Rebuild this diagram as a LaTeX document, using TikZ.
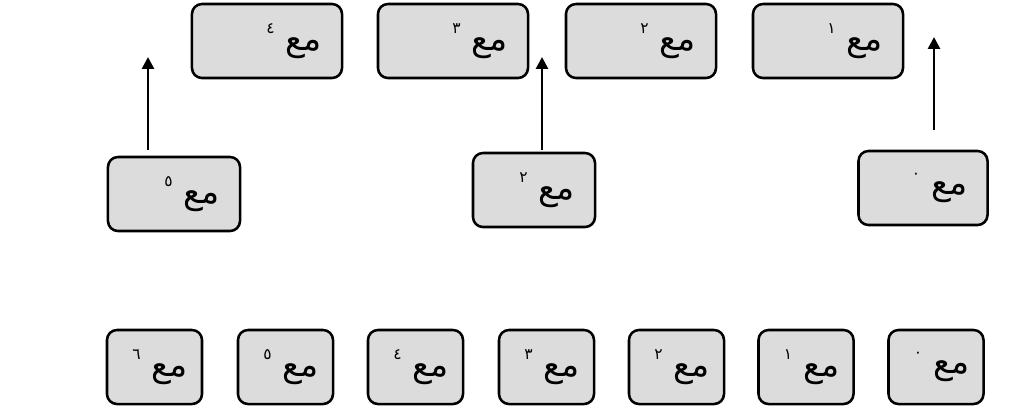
\documentclass[tikz,border=0pt]{standalone}
\usepackage{fontspec}
\usetikzlibrary{arrows.meta,calc}
\TeXXeTstate=1
\newfontfamily\arabicfont[Script=Arabic]{DejaVu Sans}
\definecolor{boxgray}{RGB}{220,220,220}
\newcommand{\mc}[1]{\mbox{\arabicfont\beginR مع \raisebox{0.9ex}{\fontsize{11}{11}\selectfont #1}\endR}}
\tikzset{
  box/.style={draw, fill=boxgray, line width=1.8pt, rounded corners=0.25cm,
    inner xsep=0.5cm, inner ysep=0pt, align=right, minimum height=1.85cm,
    font=\fontsize{24}{26}\selectfont},
  smallbox/.style={box, inner xsep=0.35cm, text width=1.675cm},
  arr/.style={-{Triangle[width=8.5pt,length=8.5pt]}, line width=1.9pt}
}
\begin{document}
\begin{tikzpicture}[x=0.025cm, y=-0.025cm]
  \useasboundingbox (0,0) rectangle (1019,409);
  % top row
  \node[box, text width=2.75cm] (s4) at (267,41) {\mc{٤}};
  \node[box, text width=2.75cm] (s3) at (453,41) {\mc{٣}};
  \node[box, text width=2.75cm] (s2) at (641,41) {\mc{٢}};
  \node[box, text width=2.75cm] (s1) at (828,41) {\mc{١}};
  % middle row
  \node[box, text width=2.3cm]   (m5) at (174,194) {\mc{٥}};
  \node[box, text width=2.05cm]  (m2) at (534,190) {\mc{٢}};
  \node[box, text width=2.225cm] (m0) at (923,188) {\mc{٠}};
  % bottom row
  \node[smallbox] (b6) at (154.5,367) {\mc{٦}};
  \node[smallbox] (b5) at (285.5,367) {\mc{٥}};
  \node[smallbox] (b4) at (415.5,367) {\mc{٤}};
  \node[smallbox] (b3) at (546.5,367) {\mc{٣}};
  \node[smallbox] (b2) at (676.5,367) {\mc{٢}};
  \node[smallbox] (b1) at (806,367)   {\mc{١}};
  \node[smallbox] (b0) at (936,367)   {\mc{٠}};
  % arrows
  \coordinate (t5) at (148,57);
  \coordinate (t2) at (542,57);
  \coordinate (t0) at (934,37);
  \draw[arr] ($(m5.north -| t5)+(0,-6)$) -- (t5);
  \draw[arr] ($(m2.north -| t2)+(0,-2)$) -- (t2);
  \draw[arr] ($(m0.north -| t0)+(0,-20)$) -- (t0);
\end{tikzpicture}
\end{document}
